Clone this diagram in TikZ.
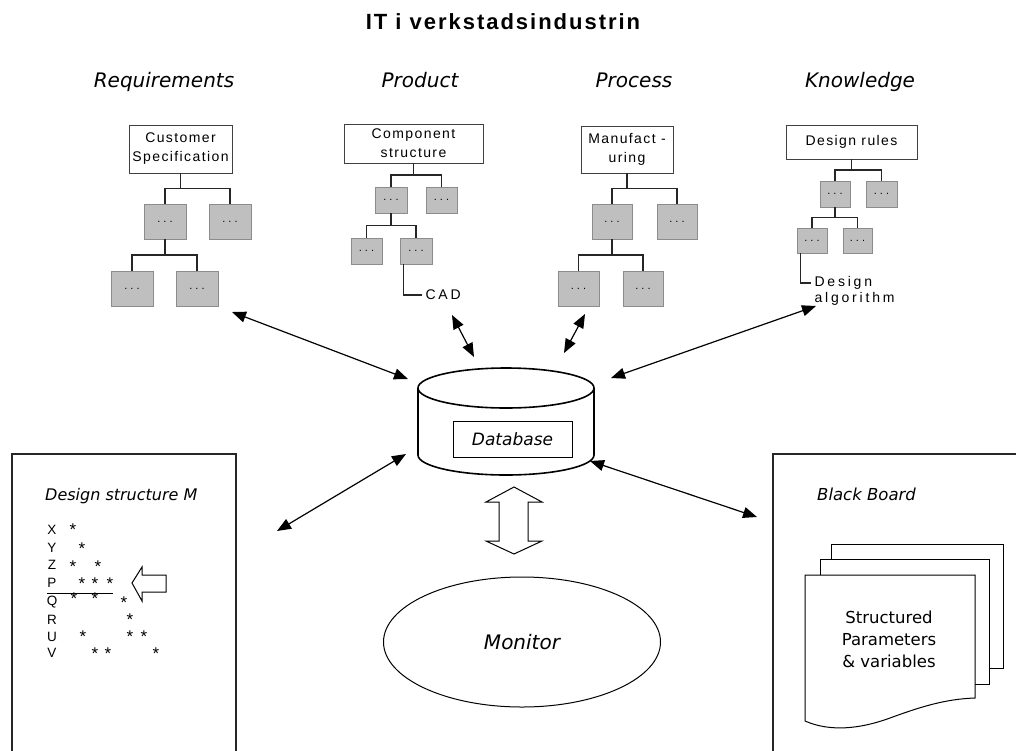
\documentclass[tikz,border=0pt]{standalone}
\usepackage{fontspec}
\setmainfont{Liberation Sans}
\newfontfamily\dvfont{DejaVu Sans}[ItalicFont={DejaVu Sans Oblique}]
\newfontfamily\spacedfont{Liberation Sans}[LetterSpace=10]
\newfontfamily\widefont{Liberation Sans}[LetterSpace=20]
\newfontfamily\titlefont{Liberation Sans}[LetterSpace=9]
\usetikzlibrary{arrows.meta,calc,shapes.geometric}

\newcommand\leafdots{.\hspace{3pt}.\hspace{3pt}.}
% parent -> two children, with the bar halfway between them
\newcommand\treefork[3]{%
  \coordinate (fk#1) at ($(#1.south)!0.5!(#2.north)$);
  \draw[treeline] (#1.south) -- (#1.south |- fk#1);
  \draw[treeline] (#2.north) |- (fk#1) -| (#3.north);}

\tikzset{
  rootbox/.style={draw=black!75, line width=0.8pt, fill=white, align=center,
    inner sep=0pt, font=\spacedfont\fontsize{14}{19}\selectfont},
  leafbox/.style={draw=black!45, line width=0.8pt, fill=black!25, inner sep=0pt,
    font=\fontsize{11}{11}\selectfont},
  treeline/.style={draw=black!85, line width=1.3pt},
  link/.style={line width=1.2pt,
    {Triangle[length=14pt,width=11pt]}-{Triangle[length=14pt,width=11pt]}},
  heading/.style={font=\dvfont\itshape\fontsize{20}{24}\selectfont, anchor=base},
  frame/.style={draw=black!85, line width=1.3pt},
  rowlabel/.style={font=\fontsize{13.5}{13.5}\selectfont, text height=9.5pt, text depth=0pt, inner sep=0pt},
  starmark/.style={font=\fontsize{17}{17}\selectfont, anchor=base, inner sep=0pt},
  sheet/.style={draw=black, line width=1pt, fill=white},
}

\begin{document}
\begin{tikzpicture}[x=1pt,y=-1pt]
\useasboundingbox (0,0) rectangle (1016,750);
\fill[white] (0,0) rectangle (1016,750);

% title and column headings
\node[font=\titlefont\bfseries\fontsize{22}{26}\selectfont, anchor=base] (title) at (503,29) {IT i verkstadsindustrin};
\node[heading] (hreq)  at (164,87) {Requirements};
\node[heading] (hprod) at (420,87) {Product};
\node[heading] (hproc) at (634,87) {Process};
\node[heading] (hknow) at (860,87) {Knowledge};

% Requirements tree
\node[rootbox, minimum width=103pt, minimum height=48pt] (t1r) at (180.5,149) {Customer\\Specification};
\node[leafbox, minimum width=42pt, minimum height=35pt] (t1a) at (165,221.5) {\leafdots};
\node[leafbox, minimum width=42pt, minimum height=35pt] (t1b) at (230,221.5) {\leafdots};
\node[leafbox, minimum width=42pt, minimum height=35pt] (t1c) at (132,288.5) {\leafdots};
\node[leafbox, minimum width=42pt, minimum height=35pt] (t1d) at (197,288.5) {\leafdots};
\treefork{t1r}{t1a}{t1b}
\treefork{t1a}{t1c}{t1d}

% Product tree
\node[rootbox, minimum width=139pt, minimum height=39pt] (t2r) at (413.5,143.5) {Component\\structure};
\node[leafbox, minimum width=32pt, minimum height=26pt] (t2a) at (391,200) {\leafdots};
\node[leafbox, minimum width=31pt, minimum height=26pt] (t2b) at (441.5,200) {\leafdots};
\node[leafbox, minimum width=31pt, minimum height=26pt] (t2c) at (366.5,251) {\leafdots};
\node[leafbox, minimum width=32pt, minimum height=26pt] (t2d) at (416,251) {\leafdots};
\treefork{t2r}{t2a}{t2b}
\treefork{t2a}{t2c}{t2d}
\node[anchor=west, font=\widefont\fontsize{14}{14}\selectfont] (cad) at (422,295) {CAD};
\draw[treeline] ($(t2d.south west)+(4,0)$) |- (cad.west);

% Process tree
\node[rootbox, minimum width=92pt, minimum height=47pt] (t3r) at (627,149.5) {Manufact -\\uring};
\node[leafbox, minimum width=40pt, minimum height=35pt] (t3a) at (612,221.5) {\leafdots};
\node[leafbox, minimum width=40pt, minimum height=35pt] (t3b) at (677,221.5) {\leafdots};
\node[leafbox, minimum width=41pt, minimum height=35pt] (t3c) at (578.5,288.5) {\leafdots};
\node[leafbox, minimum width=40pt, minimum height=35pt] (t3d) at (643,288.5) {\leafdots};
\treefork{t3r}{t3a}{t3b}
\treefork{t3a}{t3c}{t3d}

% Knowledge tree
\node[rootbox, minimum width=131pt, minimum height=34pt] (t4r) at (851.5,142) {Design rules};
\node[leafbox, minimum width=30pt, minimum height=26pt] (t4a) at (835,194) {\leafdots};
\node[leafbox, minimum width=31pt, minimum height=26pt] (t4b) at (881.5,194) {\leafdots};
\node[leafbox, minimum width=30pt, minimum height=25pt] (t4c) at (812,240.5) {\leafdots};
\node[leafbox, minimum width=29pt, minimum height=25pt] (t4d) at (857.5,240.5) {\leafdots};
\treefork{t4r}{t4a}{t4b}
\treefork{t4a}{t4c}{t4d}
\node[anchor=west, font=\widefont\fontsize{14}{14}\selectfont] (algA) at (811,283) {Design};
\node[anchor=west, font=\widefont\fontsize{14}{14}\selectfont] (algB) at (811,299) {algorithm};
\draw[treeline] ($(t4c.south west)+(4,0)$) |- (algA.west);

% database cylinder
\draw[line width=1.6pt] (506,388) ellipse[x radius=88pt, y radius=20pt];
\draw[line width=1.6pt] (418,388) -- (418,455) arc[start angle=180, end angle=360, x radius=88pt, y radius=20pt] -- (594,388);
\node[draw, line width=0.9pt, minimum width=119pt, minimum height=36pt, inner sep=0pt,
  font=\dvfont\itshape\fontsize{17}{17}\selectfont] (db) at (512.5,439) {Database};

% end points of the links
\coordinate (reqEnd)  at (232,312);
\coordinate (dbReq)   at (408,379);
\coordinate (cadEnd)  at (452,315);
\coordinate (dbCad)   at (474,357);
\coordinate (procEnd) at (585,314);
\coordinate (dbProc)  at (564,353);
\coordinate (knowEnd) at (816,306);
\coordinate (dbKnow)  at (611,378);
\coordinate (dbDsm)   at (406,454);
\coordinate (dsmEnd)  at (277,531);
\coordinate (dbBb)    at (590,461);
\coordinate (bbEnd)   at (757,517);

\draw[link] (reqEnd) -- (dbReq);
\draw[link] (cadEnd) -- (dbCad);
\draw[link] (procEnd) -- (dbProc);
\draw[link] (knowEnd) -- (dbKnow);
\draw[link] (dbDsm) -- (dsmEnd);
\draw[link] (dbBb) -- (bbEnd);

% hollow two-way arrow between database and monitor
\draw[line width=1pt, fill=white] (514,487) -- (542,502) -- (528,502) -- (528,541) -- (542,541)
  -- (514,554) -- (486,541) -- (499,541) -- (499,502) -- (486,502) -- cycle;

% monitor
\node[draw, ellipse, line width=1pt, minimum width=277pt, minimum height=130pt, inner sep=0pt,
  font=\dvfont\itshape\fontsize{20}{20}\selectfont] (mon) at (522,642) {Monitor};

% design structure matrix panel
\draw[frame] (12,752) -- (12,454) -- (236,454) -- (236,752);
\node[anchor=base west, inner sep=0pt, font=\dvfont\itshape\fontsize{16}{16}\selectfont] (dsm) at (45,500) {Design structure M};
\foreach \t/\y [count=\i] in {X/530,Y/547.5,Z/565,P/583,Q/601,R/620,U/637,V/653}
  \node[rowlabel] (row\i) at (52,\y) {\t};
\foreach \x/\y [count=\i] in {73/526,82/545,73/563,98/563,82/580,95/580,110/580,
    74/595,95/595,124/599,130/616,83/633,130/633,144/633,95/650,108/650,156/650}
  \node[starmark] (st\i) at (\x,{\y+9.9}) {*};
\draw[line width=1pt] (47,593) -- (113,593);
\draw[line width=1pt, fill=white] (132,583) -- (142,567) -- (142,575) -- (166,575)
  -- (166,592) -- (142,592) -- (142,601) -- cycle;

% black board panel
\draw[frame] (773,752) -- (773,454) -- (1018,454);
\node[anchor=base west, inner sep=0pt, font=\dvfont\itshape\fontsize{16.5}{16.5}\selectfont] (bb) at (817,500) {Black Board};
\draw[sheet] (831,544) rectangle (1003,668);
\draw[sheet] (820,559) rectangle (989,684);
\draw[sheet] (805,575) -- (975,575) -- (975,698)
  .. controls (945,699) and (920,707) .. (890,718)
  .. controls (860,729) and (830,732) .. (805,721) -- cycle;
\node[align=center, font=\dvfont\fontsize{16.5}{22}\selectfont] (params) at (889,639)
  {Structured\\Parameters\\\& variables};
\end{tikzpicture}
\end{document}
